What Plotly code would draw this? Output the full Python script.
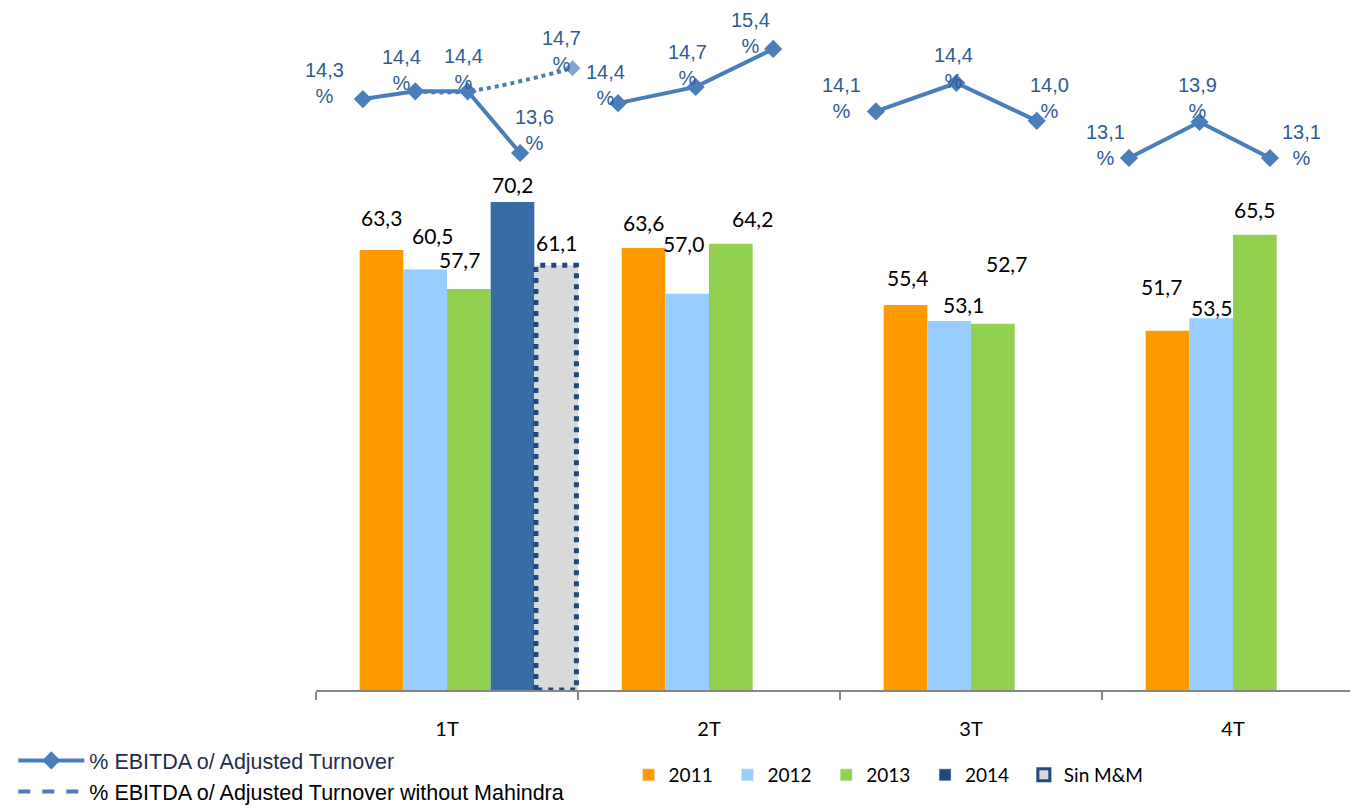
import plotly.graph_objects as go

quarters = ["1T", "2T", "3T", "4T"]
years = ["2011", "2012", "2013", "2014"]

# EBITDA (M€) per quarter and year
ebitda_2011 = [63.3, 63.6, 55.4, 51.7]
ebitda_2012 = [60.5, 57.0, 53.1, 53.5]
ebitda_2013 = [57.7, 64.2, 52.7, 65.5]
ebitda_2014 = [70.2, None, None, None]
ebitda_sin_mm = [61.1, None, None, None]

# % EBITDA o/ Adjusted Turnover, one list per quarter
margin_1t = [14.3, 14.4, 14.4, 13.6]
margin_2t = [14.4, 14.7, 15.4]
margin_3t = [14.1, 14.4, 14.0]
margin_4t = [13.1, 13.9, 13.1]
margin_sin_mm = 14.7

# styles
bar_colors = ["#ff9900", "#99ccff", "#92d050", "#376ca6"]
legend_colors = ["#ff9900", "#99ccff", "#92d050", "#1f497d"]
line_color = "#4a7ebb"
label_font = "Lato, 'Open Sans', sans-serif"
pct_font = "'Liberation Sans', Arial, sans-serif"
pct_color = "#2f5b96"
NBSP = "\u00a0"

# label offsets in px (dx, dy) -- hand placed labels of the original
bar_lab_dx = [[0, 0, 2, -6], [7, -4, 14, 0], [-9, 22, 14, 0], [0]]
bar_lab_dy = [[18, 11, 13, 30], [20, 36, 2, -4], [15, 11, 46, 11], [3]]
sin_lab_dx, sin_lab_dy = 0, 8
pct_shift = [
    [(-38, 16), (-14, 21), (-4, 22), (14, 23), (-11, 17)],
    [(-13, 18), (-8, 22), (-23, 16)],
    [(-34, 13), (-3, 15), (13, 23)],
    [(-23, 13), (-2, 24), (32, 13)],
]
# where the margin points sit inside each quarter (start, step)
pt_layout = [(0.179, 0.2), (0.153, 0.296), (0.137, 0.307), (0.103, 0.269)]
# every quarter's margin line had its own (hidden) value axis in the original
pct_ranges = [(6.635, 15.325), (3.572, 15.934), (7.983, 15.066), (1.278, 16.167)]

SLOTS = 6  # each quarter split in 6 slots, the first one left empty
W = 1 / SLOTS


def bar_x(q, i):
    return q + (i + 1.5) * W


def pt_x(q, i):
    start, step = pt_layout[q]
    return q + start + i * step


def fmt(v):
    return f"{v:.1f}".replace(".", ",")


fig = go.Figure()

yearly = [ebitda_2011, ebitda_2012, ebitda_2013, ebitda_2014]
for i, (yr, vals) in enumerate(zip(years, yearly)):
    fig.add_trace(go.Bar(
        x=[bar_x(q, i) for q in range(4)], y=vals, width=W,
        marker=dict(color=bar_colors[i], line=dict(width=0)),
        showlegend=False, hoverinfo="y",
    ))
    for q, v in enumerate(vals):
        if v is None:
            continue
        fig.add_annotation(
            x=bar_x(q, i), y=v, xref="x", yref="y",
            text=fmt(v), showarrow=False,
            yanchor="bottom", xshift=bar_lab_dx[i][q], yshift=bar_lab_dy[i][q],
            font=dict(family=label_font, size=21, color="#000000"),
        )

# Sin M&M bar: grey fill with a dotted navy outline
sin_x = [bar_x(q, 4) for q in range(4)]
fig.add_trace(go.Bar(
    x=sin_x, y=ebitda_sin_mm, width=W,
    marker=dict(color="#d9d9d9", line=dict(width=0)),
    showlegend=False, hoverinfo="y",
))
for q, v in enumerate(ebitda_sin_mm):
    if v is None:
        continue
    x0, x1 = sin_x[q] - W / 2 + 0.006, sin_x[q] + W / 2 - 0.006
    fig.add_trace(go.Scatter(
        x=[x0, x0, x1, x1, x0], y=[0, v, v, 0, 0], mode="lines",
        line=dict(color="#1f497d", width=5, dash="5px,6px"),
        showlegend=False, hoverinfo="skip",
    ))
    fig.add_annotation(
        x=sin_x[q], y=v, xref="x", yref="y",
        text=fmt(v), showarrow=False,
        yanchor="bottom", xshift=sin_lab_dx, yshift=sin_lab_dy,
        font=dict(family=label_font, size=21, color="#000000"),
    )

# legend entries for the bars
for yr, col in zip(years, legend_colors):
    fig.add_trace(go.Bar(
        x=[None], y=[None], name=yr + NBSP * 2, marker=dict(color=col),
        legend="legend2",
    ))
fig.add_trace(go.Bar(
    x=[None], y=[None], name="Sin M&M",
    marker=dict(color="#d9d9d9", line=dict(color="#1f497d", width=3)),
    legend="legend2",
))

# margin line, one segment (and one hidden axis) per quarter
margins = [margin_1t + [margin_sin_mm], margin_2t, margin_3t, margin_4t]
for q, m in enumerate(margins):
    yax = f"y{q + 2}"
    solid = m[:-1] if q == 0 else m
    fig.add_trace(go.Scatter(
        x=[pt_x(q, i) for i in range(len(solid))], y=solid, yaxis=yax,
        mode="lines+markers",
        line=dict(color=line_color, width=4),
        marker=dict(symbol="diamond", size=14, color=line_color),
        name="<span style='color:#1f2d4d'>% EBITDA o/ Adjusted Turnover</span>",
        legend="legend", showlegend=(q == 0),
    ))
    for i, v in enumerate(m):
        dx, dy = pct_shift[q][i]
        fig.add_annotation(
            x=pt_x(q, i), y=v, xref="x", yref=yax,
            text=fmt(v) + "<br>%", showarrow=False,
            xanchor="center", yanchor="middle", xshift=dx, yshift=dy,
            align="center",
            font=dict(family=pct_font, size=20, color=pct_color),
        )

# dotted "without Mahindra" path in 1T
fig.add_trace(go.Scatter(
    x=[pt_x(0, 1), pt_x(0, 2), pt_x(0, 4)],
    y=[margin_1t[1], margin_1t[2], margin_sin_mm], yaxis="y2",
    mode="lines+markers", line=dict(color=line_color, width=4, dash="dot", shape="spline"),
    marker=dict(symbol="diamond", size=[0, 0, 13], color=line_color),
    showlegend=False, hoverinfo="skip",
))
fig.add_trace(go.Scatter(
    x=[None], y=[None], yaxis="y2", mode="lines",
    line=dict(color=line_color, width=4, dash="dash"),
    name="% EBITDA o/ Adjusted Turnover without Mahindra", legend="legend",
))

# page body has an 8px margin, so the figure is 8px smaller than the window
fig.update_layout(
    width=1350, height=800,
    margin=dict(l=308, r=0, t=12, b=118, autoexpand=False),
    paper_bgcolor="white", plot_bgcolor="white",
    barmode="overlay",
    xaxis=dict(
        range=[0, 1042 / 262], showgrid=False, zeroline=False,
        showline=True, linecolor="#868686", linewidth=2,
        tickvals=[q + 0.5 for q in range(4)], ticktext=quarters, ticks="",
        ticklabelstandoff=20,
        tickfont=dict(family=label_font, size=20, color="#000000"),
        minor=dict(tickvals=list(range(5)), ticks="outside", ticklen=8,
                   tickwidth=2, tickcolor="#868686", showgrid=False),
    ),
    yaxis=dict(range=[0, 670 / 6.95], visible=False, showgrid=False),
    legend=dict(
        x=-0.2905, y=-0.0746, xanchor="left", yanchor="top",
        orientation="v", bgcolor="rgba(0,0,0,0)", tracegroupgap=0,
        font=dict(family=pct_font, size=21.5, color="#000000"),
        itemwidth=66,
    ),
    legend2=dict(
        x=0.300, y=-0.0985, xanchor="left", yanchor="top",
        orientation="h", bgcolor="rgba(0,0,0,0)",
        font=dict(family=label_font, size=19, color="#000000"),
        itemwidth=30,
    ),
)
for q, (lo, hi) in enumerate(pct_ranges):
    fig.update_layout({f"yaxis{q + 2}": dict(range=[lo, hi], overlaying="y",
                                            visible=False, showgrid=False)})

fig.write_html("out.html")
